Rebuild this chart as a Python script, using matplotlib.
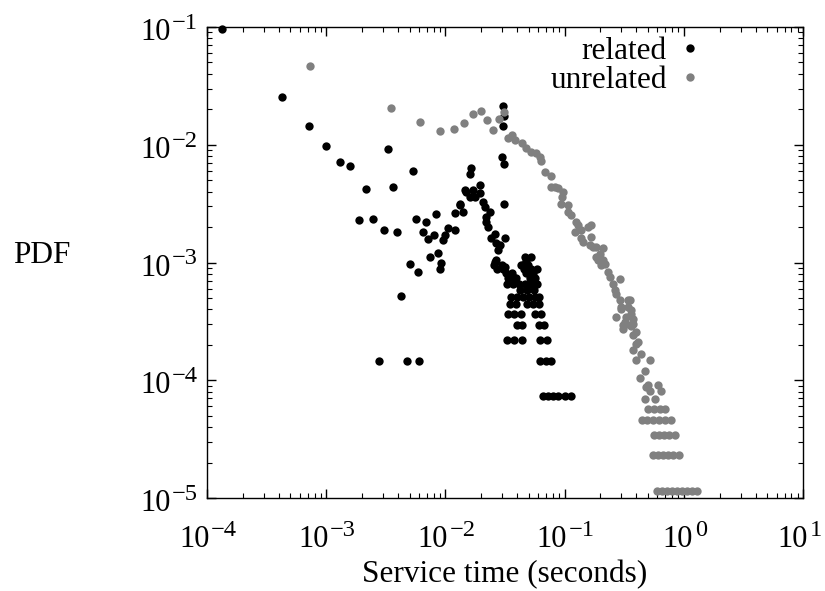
import math
import matplotlib
matplotlib.use("Agg")
import matplotlib.pyplot as plt
from matplotlib.ticker import LogLocator, NullFormatter

plt.rcParams['font.family'] = ['Liberation Serif', 'DejaVu Serif']
plt.rcParams['mathtext.fontset'] = 'stix'

# ---- related (black) ----
rel_x = [1.34e-4, 4.26e-4, 7.16e-4, 1.0e-3, 1.30e-3, 1.59e-3, 3.33e-3, 2.16e-3, 3.62e-3, 5.38e-3,
         1.88e-3, 2.45e-3, 5.65e-3, 3.03e-3, 3.92e-3, 5.08e-3, 5.88e-3, 4.21e-3, 2.77e-3, 4.74e-3,
         6.04e-3, 0.0303, 0.0309, 0.0302, 0.0297, 0.0309, 0.01633, 0.0313, 0.01603, 0.01941,
         0.01456, 0.01706, 0.01941, 0.01321, 0.01603, 0.0207, 0.01406, 0.0120, 8.31e-3, 6.86e-3,
         6.50e-3, 8.0e-3, 7.16e-3, 0.01054, 0.0120, 9.89e-3, 9.58e-3, 8.69e-3, 7.40e-3, 9.27e-3,
         8.97e-3, 0.0221, 0.0228, 0.0259, 0.0315, 0.0268, 0.0277, 0.0259, 0.01764, 0.0214,
         0.02355, 0.0221, 0.0243, 0.02858, 0.0268, 0.0315, 0.0448, 0.0527, 0.0463, 0.0369,
         0.01503, 0.01321]
rel_y = [0.0967, 0.0254, 0.0144, 0.0097, 0.00716, 0.00662, 0.00924, 0.0042, 0.00437, 0.00597,
         0.00229, 0.00233, 0.00233, 0.00188, 0.00181, 9.77e-4, 8.28e-4, 5.24e-4, 1.47e-4, 1.47e-4,
         1.47e-4, 0.0214, 0.0175, 0.0143, 0.00785, 0.00685, 0.0064, 0.00317, 0.00563, 0.00454,
         0.00412, 0.00416, 0.00386, 0.00316, 0.00361, 0.00325, 0.00269, 0.00261, 0.00257, 0.0022,
         0.00182, 0.00172, 0.00158, 0.00195, 0.00188, 0.0017, 0.00155, 0.00121, 0.00112, 9.93e-4,
         8.89e-4, 0.00244, 0.00201, 0.00176, 0.0016, 0.00145, 0.00127, 0.00101, 0.00361, 0.00297,
         0.00269, 0.00221, 0.0016, 0.0014, 1.046e-3, 9.18e-4, 9.48e-4, 1.12e-3, 1.12e-3, 7.55e-4,
         0.0040, 0.00307]

# related, discrete low-count rows
rel_row_x = [0.0655, 0.0721, 0.0794, 0.0875, 0.1002, 0.1125,
             0.0618, 0.0694, 0.0765,
             0.0327, 0.0374, 0.0436, 0.0618, 0.0708,
             0.0397, 0.0436, 0.0607, 0.0668,
             0.0334, 0.0374, 0.0429, 0.0561, 0.0631,
             0.0347, 0.0389, 0.0481, 0.0540, 0.0607,
             0.0353, 0.0397, 0.0446, 0.0500, 0.0561, 0.0607,
             0.0421, 0.0481, 0.0551,
             0.0327, 0.0367, 0.0413, 0.0463, 0.0520, 0.0584,
             0.0334, 0.0389, 0.0509, 0.0561,
             0.0320, 0.0360, 0.0472, 0.0540,
             0.0270, 0.0303, 0.0454, 0.0520, 0.0584,
             0.0255, 0.0297, 0.0429, 0.0490,
             0.0472]
rel_row_y = [7.35e-5] * 6 + [1.47e-4] * 3 + [2.2e-4] * 5 + [2.94e-4] * 4 + [3.67e-4] * 5 + \
            [4.41e-4] * 5 + [5.14e-4] * 6 + [5.88e-4] * 3 + [6.6e-4] * 6 + [7.35e-4] * 4 + \
            [8.1e-4] * 4 + [8.8e-4] * 5 + [9.56e-4] * 4 + [1.03e-3]

# ---- unrelated (gray) ----
unr_x = [7.35e-4, 3.47e-3, 6.18e-3, 8.93e-3, 0.0117, 0.01436, 0.0172, 0.0198, 0.0224, 0.0253,
         0.0281, 0.0309, 0.0336, 0.0365, 0.0382, 0.0435, 0.0479, 0.0527, 0.0581, 0.0618,
         0.0639, 0.0681, 0.0774, 0.0774, 0.0826, 0.0881, 0.0971, 0.0960, 0.094, 0.1068,
         0.1068, 0.114, 0.1256, 0.1294, 0.1384, 0.157, 0.1216, 0.1384, 0.1426, 0.1622,
         0.1677, 0.1677, 0.173, 0.1848, 0.21, 0.1968, 0.1848, 0.1905, 0.21, 0.203,
         0.217, 0.231, 0.2388, 0.2897, 0.2547, 0.263, 0.2716, 0.3516, 0.2897, 0.340,
         0.299, 0.340, 0.299, 0.363, 0.363, 0.2716, 0.330, 0.374, 0.319, 0.330,
         0.374, 0.309, 0.363, 0.309, 0.400, 0.374, 0.412, 0.400, 0.374, 0.441,
         0.400, 0.5164, 0.469, 0.4266, 0.50, 0.485, 0.607, 0.5164, 0.647, 0.469,
         0.569]
unr_y = [0.0463, 0.0205, 0.01567, 0.0131, 0.0135, 0.0152, 0.01833, 0.01945, 0.0162, 0.0134,
         0.0164, 0.0190, 0.01133, 0.01208, 0.01095, 0.0104, 0.0093, 0.00871, 0.00844, 0.0079,
         0.0073, 0.00589, 0.00541, 0.0044, 0.0044, 0.00426, 0.00398, 0.00361, 0.00317, 0.00307,
         0.00269, 0.00252, 0.00221, 0.00208, 0.00188, 0.00201, 0.00181, 0.0016, 0.0015, 0.0014,
         0.00208, 0.00165, 0.00136, 0.00136, 0.00132, 0.00119, 0.00112, 1.046e-3, 1.046e-3, 9.48e-4,
         9.8e-4, 8.32e-4, 7.55e-4, 7.31e-4, 6.63e-4, 5.81e-4, 5.45e-4, 4.78e-4, 4.78e-4, 4.78e-4,
         4.2e-4, 4.2e-4, 4.06e-4, 3.93e-4, 3.68e-4, 3.45e-4, 3.45e-4, 3.34e-4, 3.13e-4, 3.03e-4,
         3.03e-4, 2.93e-4, 2.89e-4, 2.75e-4, 2.57e-4, 2.41e-4, 2.11e-4, 2.05e-4, 1.8e-4, 1.68e-4,
         1.48e-4, 1.48e-4, 1.2e-4, 1.035e-4, 9.2e-5, 8.77e-5, 9.06e-5, 8.05e-5, 8.05e-5, 6.9e-5,
         6.9e-5]

# unrelated, discrete low-count rows
unr_row_x = [0.50, 0.558, 0.627, 0.690,
             0.443, 0.488, 0.547, 0.615, 0.690, 0.774,
             0.558, 0.615, 0.678, 0.746, 0.838,
             0.547, 0.603, 0.664, 0.731, 0.805, 0.904,
             0.592, 0.652, 0.718, 0.79, 0.871, 0.959, 1.057, 1.162, 1.279]
unr_row_y = [5.75e-5] * 4 + [4.6e-5] * 6 + [3.45e-5] * 5 + [2.3e-5] * 6 + [1.15e-5] * 9

x_ticks = [1e-4, 1e-3, 1e-2, 1e-1, 1e0, 1e1]
y_ticks = [1e-5, 1e-4, 1e-3, 1e-2, 1e-1]

FS = 22.5
BASE_FS = 22.0
EXP_FS = 17.6
PX2PT = 72.0 / 100.0

fig = plt.figure(figsize=(8.25, 5.91), dpi=100)
ax = fig.add_axes([207 / 825, 1 - 498 / 591, 596 / 825, 471 / 591])

ms = 6.0
ax.plot(rel_x + rel_row_x, rel_y + rel_row_y, linestyle='none', marker='o', ms=ms,
        color='black', markeredgewidth=0, label='related', clip_on=False)
ax.plot(unr_x + unr_row_x, unr_y + unr_row_y, linestyle='none', marker='o', ms=ms,
        color='#808080', markeredgewidth=0, label='unrelated', clip_on=False)

ax.set_xscale('log')
ax.set_yscale('log')
ax.set_xlim(1e-4, 1e1)
ax.set_ylim(1e-5, 1e-1)

ax.set_xticks(x_ticks)
ax.set_yticks(y_ticks)
ax.xaxis.set_major_formatter(NullFormatter())
ax.yaxis.set_major_formatter(NullFormatter())
ax.xaxis.set_minor_locator(LogLocator(base=10, subs=range(2, 10), numticks=20))
ax.yaxis.set_minor_locator(LogLocator(base=10, subs=range(2, 10), numticks=20))
ax.xaxis.set_minor_formatter(NullFormatter())
ax.yaxis.set_minor_formatter(NullFormatter())

ax.tick_params(which='both', direction='in', top=True, right=True)
ax.tick_params(which='major', length=6.5, width=1.0)
ax.tick_params(which='minor', length=3.3, width=0.8)
for s in ax.spines.values():
    s.set_linewidth(1.0)

# gnuplot-style tick labels: "10" with a raised, smaller exponent
labels = []
for axis_name, ticks in (('x', x_ticks), ('y', y_ticks)):
    for t in ticks:
        e = int(round(math.log10(t)))
        es = str(e).replace('-', '\u2212')
        if axis_name == 'x':
            xy, xyc = (t, 0), ('data', 'axes fraction')
        else:
            xy, xyc = (0, t), ('axes fraction', 'data')
        a = ax.annotate('10', xy=xy, xycoords=xyc, xytext=(0, 0), textcoords='offset points',
                        ha='left', va='baseline', fontsize=BASE_FS, annotation_clip=False)
        b = ax.annotate(es, xy=xy, xycoords=xyc, xytext=(0, 0), textcoords='offset points',
                        ha='left', va='baseline', fontsize=EXP_FS, annotation_clip=False)
        labels.append((axis_name, a, b))

fig.canvas.draw()
renderer = fig.canvas.get_renderer()
gap = 1.5
for axis_name, a, b in labels:
    w10 = a.get_window_extent(renderer).width
    we = b.get_window_extent(renderer).width
    if axis_name == 'x':
        W = w10 + gap + we
        left = -W / 2 + 1
        fig_right = fig.bbox.width - 2
        # keep the last label inside the figure
        tick_px = ax.transData.transform((labels and 1, 1))[0]
        a.xyann = (left * PX2PT, -49 * PX2PT)
        b.xyann = ((left + w10 + gap) * PX2PT, -38 * PX2PT)
    else:
        right = -9
        a.xyann = ((right - we - gap - w10) * PX2PT, -13 * PX2PT)
        b.xyann = ((right - we) * PX2PT, -2 * PX2PT)

# make sure the rightmost x label stays within the canvas
fig.canvas.draw()
for axis_name, a, b in labels:
    if axis_name == 'x':
        over = b.get_window_extent(renderer).x1 - (fig.bbox.width - 3)
        if over > 0:
            a.xyann = (a.xyann[0] - over * PX2PT, a.xyann[1])
            b.xyann = (b.xyann[0] - over * PX2PT, b.xyann[1])

ax.set_xlabel('Service time (seconds)', fontsize=FS, va='center')
ax.xaxis.set_label_coords(0.5, -0.1635)
ax.set_ylabel('PDF', fontsize=FS, rotation=0, va='center', ha='center')
ax.yaxis.set_label_coords(-0.278, 0.514)

ax.legend(loc='upper right', bbox_to_anchor=(0.863, 1.025), frameon=False, fontsize=FS,
          markerfirst=False, handlelength=0.6, handletextpad=0.45, labelspacing=0.0,
          borderpad=0.2, markerscale=1.0)

fig.savefig('out.png', dpi=100)
